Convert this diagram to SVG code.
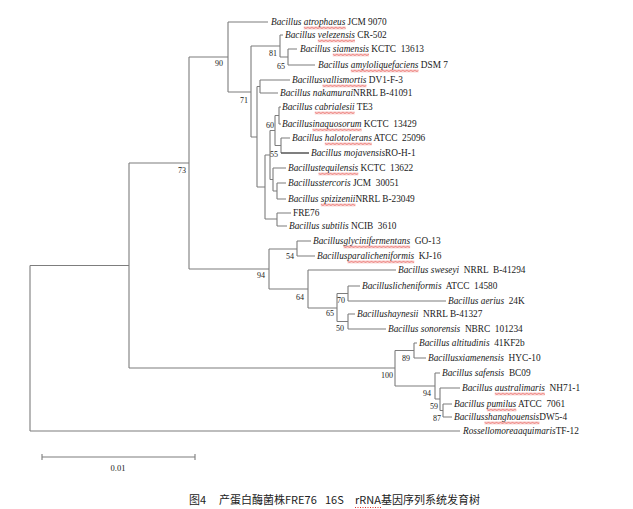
<svg xmlns="http://www.w3.org/2000/svg" width="633" height="509" viewBox="0 0 633 509">
<defs>
<pattern id="wv" width="4" height="3" patternUnits="userSpaceOnUse"><path d="M0,0.6 L2,2.4 L4,0.6" fill="none" stroke="#e02a24" stroke-width="1"/></pattern>
<style>
.br{fill:none;stroke:#7d7d7d;stroke-width:1.1}
.dk{stroke:#555;stroke-width:1.5}
.sp{font-family:"Liberation Serif","Times New Roman",serif;font-size:9.3px;fill:#1a1a1a}
.i{font-style:italic}
.bs{font-family:"Liberation Serif","Times New Roman",serif;font-size:8px;fill:#222;text-anchor:end}
.cap{font-family:"Noto Sans CJK SC","Noto Sans",sans-serif;font-size:11px;fill:#222}
.sc{font-family:"Liberation Serif","Times New Roman",serif;font-size:8.5px;fill:#222;text-anchor:middle}
</style>
</defs>
<rect width="633" height="509" fill="#fff"/>
<g id="connectors">
<path class="br" d="M30,265.5V431 M129,163V368 M189,57V269 M228,22V92 M251,46V137 M280,35V57 M288,49V65 M257,86.5V187 M260,80V93 M265,155V219 M270,130.5V179.5 M275,115.5V145.5 M279,107V124 M281,138V153 M273,168V191 M277,183V199 M277,213V226 M269,249V289 M297,241V256 M308,270V308 M337,293.5V321.5 M348,286V301 M348,314V329 M395,350.5V386 M414,343V358 M435,373V399 M440,388V410.5 M443,404V417"/>
<path class="br" d="M30,265.5H129 M30,431H460 M129,163H189 M129,368H395 M189,57H228 M189,269H269 M228,22H268 M228,92H251 M251,46H280 M251,137H257 M280,35H283 M280,57H288 M288,49H297 M288,65H315 M257,86.5H260 M257,187H265 M260,80H290 M260,93H278 M265,155H270 M265,219H277 M270,130.5H275 M270,179.5H273 M275,115.5H279 M275,145.5H281 M279,107H281 M279,124H281 M281,138H290 M273,168H286 M273,191H277 M277,183H286 M277,199H286 M277,213H291 M277,226H287 M269,249H297 M269,289H308 M297,241H311 M297,256H315 M308,270H396 M308,308H337 M337,293.5H348 M337,321.5H348 M348,286H360 M348,301H446 M348,314H355 M348,329H386 M395,350.5H414 M395,386H435 M414,343H417 M414,358H426 M435,373H440 M435,399H440 M440,388H460 M440,410.5H443 M443,404H452 M443,417H452"/>
<path class="br dk" d="M281,153H309"/>
</g>
<g id="support">
<text class="bs" x="223" y="66">90</text>
<text class="bs" x="277" y="56">81</text>
<text class="bs" x="285" y="69">65</text>
<text class="bs" x="248" y="103">71</text>
<text class="bs" x="186" y="173">73</text>
<text class="bs" x="274" y="128">60</text>
<text class="bs" x="278" y="157">55</text>
<text class="bs" x="265" y="278">94</text>
<text class="bs" x="294" y="259">54</text>
<text class="bs" x="304" y="300">64</text>
<text class="bs" x="334" y="316">65</text>
<text class="bs" x="345" y="303">70</text>
<text class="bs" x="344" y="331">50</text>
<text class="bs" x="410" y="361">89</text>
<text class="bs" x="393" y="378">100</text>
<text class="bs" x="431" y="396">94</text>
<text class="bs" x="438" y="409">59</text>
<text class="bs" x="441" y="421">87</text>
</g>
<g id="n01"><text class="sp" x="271" y="25.2" xml:space="preserve"><tspan class="i">Bacillus atrophaeus</tspan> JCM 9070</text><rect transform="translate(303.8,26.4)" width="41.9" height="3" fill="url(#wv)"/></g>
<g id="n02"><text class="sp" x="285" y="38.2" xml:space="preserve"><tspan class="i">Bacillus velezensis</tspan> CR-502</text><rect transform="translate(317.8,39.4)" width="37.2" height="3" fill="url(#wv)"/></g>
<g id="n03"><text class="sp" x="300" y="52.2" xml:space="preserve"><tspan class="i">Bacillus siamensis</tspan> KCTC  13613</text><rect transform="translate(332.8,53.4)" width="36.2" height="3" fill="url(#wv)"/></g>
<g id="n04"><text class="sp" x="318" y="68.2" xml:space="preserve"><tspan class="i">Bacillus amyloliquefaciens</tspan> DSM 7</text><rect transform="translate(350.8,69.4)" width="67.7" height="3" fill="url(#wv)"/></g>
<g id="n05"><text class="sp" x="292" y="83.2" xml:space="preserve"><tspan class="i">Bacillusvallismortis</tspan> DV1-F-3</text><rect transform="translate(322.5,84.4)" width="43.9" height="3" fill="url(#wv)"/></g>
<g id="n06"><text class="sp" x="280" y="96.2" xml:space="preserve"><tspan class="i">Bacillus nakamurai</tspan>NRRL B-41091</text></g>
<g id="n07"><text class="sp" x="282" y="110.2" xml:space="preserve"><tspan class="i">Bacillus cabrialesii</tspan> TE3</text><rect transform="translate(314.8,111.4)" width="39.8" height="3" fill="url(#wv)"/></g>
<g id="n08"><text class="sp" x="282" y="127.2" xml:space="preserve"><tspan class="i">Bacillusinaquosorum</tspan> KCTC  13429</text><rect transform="translate(312.5,128.4)" width="49.1" height="3" fill="url(#wv)"/></g>
<g id="n09"><text class="sp" x="292" y="141.2" xml:space="preserve"><tspan class="i">Bacillus halotolerans</tspan> ATCC  25096</text><rect transform="translate(324.8,142.4)" width="47" height="3" fill="url(#wv)"/></g>
<g id="n10"><text class="sp" x="311" y="156.2" xml:space="preserve"><tspan class="i">Bacillus mojavensis</tspan>RO-H-1</text></g>
<g id="n11"><text class="sp" x="288" y="171.2" xml:space="preserve"><tspan class="i">Bacillustequilensis</tspan> KCTC  13622</text><rect transform="translate(318.5,172.4)" width="39.8" height="3" fill="url(#wv)"/></g>
<g id="n12"><text class="sp" x="288" y="186.2" xml:space="preserve"><tspan class="i">Bacillusstercoris</tspan> JCM  30051</text></g>
<g id="n13"><text class="sp" x="288" y="202.2" xml:space="preserve"><tspan class="i">Bacillus spizizenii</tspan>NRRL B-23049</text><rect transform="translate(320.8,203.4)" width="34.6" height="3" fill="url(#wv)"/></g>
<g id="n14"><text class="sp" x="293" y="216.2">FRE76</text></g>
<g id="n15"><text class="sp" x="289" y="229.2" xml:space="preserve"><tspan class="i">Bacillus subtilis</tspan> NCIB  3610</text></g>
<g id="n16"><text class="sp" x="313" y="244.2" xml:space="preserve"><tspan class="i">Bacillusglycinifermentans</tspan>  GO-13</text><rect transform="translate(343.5,245.4)" width="66.6" height="3" fill="url(#wv)"/></g>
<g id="n17"><text class="sp" x="317" y="259.2" xml:space="preserve"><tspan class="i">Bacillusparalicheniformis</tspan>  KJ-16</text><rect transform="translate(347.5,260.4)" width="66.7" height="3" fill="url(#wv)"/></g>
<g id="n18"><text class="sp" x="398" y="273.2" xml:space="preserve"><tspan class="i">Bacillus sweseyi</tspan>  NRRL  B-41294</text></g>
<g id="n19"><text class="sp" x="362" y="289.2" xml:space="preserve"><tspan class="i">Bacilluslicheniformis</tspan>  ATCC  14580</text></g>
<g id="n20"><text class="sp" x="448" y="304.2" xml:space="preserve"><tspan class="i">Bacillus aerius</tspan>  24K</text></g>
<g id="n21"><text class="sp" x="357" y="317.2" xml:space="preserve"><tspan class="i">Bacillushaynesii</tspan>  NRRL B-41327</text></g>
<g id="n22"><text class="sp" x="388" y="332.2" xml:space="preserve"><tspan class="i">Bacillus sonorensis</tspan>  NBRC  101234</text></g>
<g id="n23"><text class="sp" x="419" y="346.2" xml:space="preserve"><tspan class="i">Bacillus altitudinis</tspan>  41KF2b</text></g>
<g id="n24"><text class="sp" x="428" y="361.2" xml:space="preserve"><tspan class="i">Bacillusxiamenensis</tspan>  HYC-10</text></g>
<g id="n25"><text class="sp" x="442" y="376.2" xml:space="preserve"><tspan class="i">Bacillus safensis</tspan>  BC09</text></g>
<g id="n26"><text class="sp" x="462" y="391.2" xml:space="preserve"><tspan class="i">Bacillus australimaris</tspan>  NH71-1</text><rect transform="translate(494.8,392.4)" width="50.1" height="3" fill="url(#wv)"/></g>
<g id="n27"><text class="sp" x="454" y="407.2" xml:space="preserve"><tspan class="i">Bacillus pumilus</tspan> ATCC  7061</text><rect transform="translate(486.8,408.4)" width="29.5" height="3" fill="url(#wv)"/></g>
<g id="n28"><text class="sp" x="454" y="420.2" xml:space="preserve"><tspan class="i">Bacillusshanghouensis</tspan>DW5-4</text><rect transform="translate(484.5,421.4)" width="54.9" height="3" fill="url(#wv)"/></g>
<g id="n29"><text class="sp" x="463" y="434.2" xml:space="preserve"><tspan class="i">Rossellomoreaaquimaris</tspan>TF-12</text></g>
<g id="scalebar">
<path class="br" d="M42,457H195 M42,454V460 M195,454V460"/>
<text class="sc" x="118" y="471">0.01</text>
</g>
<g id="caption">
<text class="cap" x="189" y="504">图4</text>
<text class="cap" x="219" y="504">产蛋白酶菌株FRE76</text>
<text class="cap" x="325" y="504">16S</text>
<text class="cap" x="355" y="504">rRNA基因序列系统发育树</text>
<path d="M355,507.5H381" stroke="#e0302a" stroke-width="1" stroke-dasharray="1,1.5"/>
</g>
</svg>
